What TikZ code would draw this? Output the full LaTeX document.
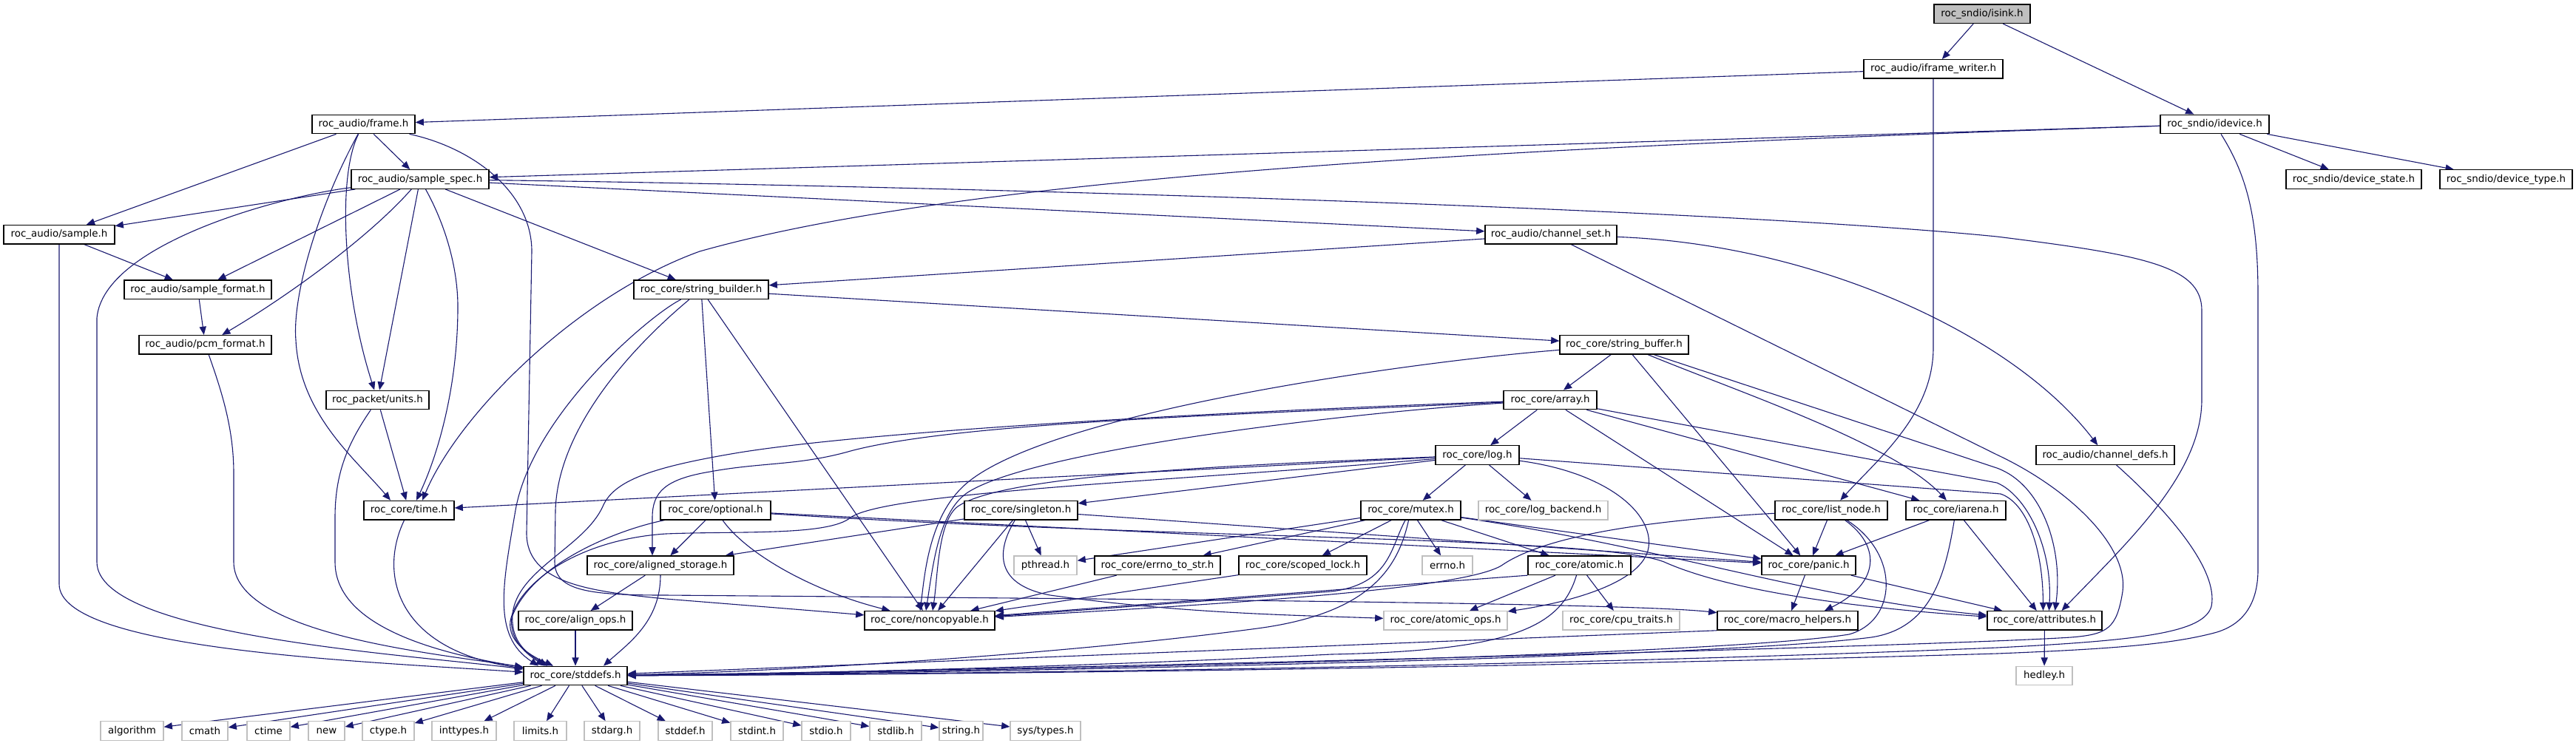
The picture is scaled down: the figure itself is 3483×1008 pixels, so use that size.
\documentclass[tikz,border=0pt]{standalone}
\usepackage{fontspec}
\setmainfont{DejaVu Sans}
\usetikzlibrary{arrows.meta,calc}
\pgfdeclarelayer{bg}
\pgfdeclarelayer{edges}
\pgfsetlayers{bg,edges,main}
\definecolor{edgec}{RGB}{25,25,112}
\definecolor{grey75}{RGB}{191,191,191}
\begin{document}
\begin{tikzpicture}[x=0.5pt,y=-0.5pt,
 nb/.style={draw=black,fill=white,line width=0.65pt,minimum height=12.75pt,inner sep=0pt,font=\fontsize{6.7pt}{7.5pt}\selectfont,text=black},
 ng/.style={nb,draw=grey75},
 bw/.style={minimum width=#1*0.5pt},
 dep/.style={draw=edgec,line width=0.55pt,-{Triangle[length=5.6pt,width=4.6pt]}},
]
\begin{pgfonlayer}{bg}
\fill[white] (0,0) rectangle (3483,1008);
\end{pgfonlayer}
\useasboundingbox (0,0) rectangle (3483,1008);

% nodes
\node[nb,bw=130,fill=grey75] (isink) at (2680,18.75) {roc\_sndio/isink.h};
\node[nb,bw=188] (ifw) at (2614,93.35) {roc\_audio/iframe\_writer.h};
\node[nb,bw=139] (frame) at (491.5,167.95) {roc\_audio/frame.h};
\node[nb,bw=147] (idevice) at (2994.5,167.95) {roc\_sndio/idevice.h};
\node[nb,bw=186] (sspec) at (568,242.55) {roc\_audio/sample\_spec.h};
\node[nb,bw=183] (dstate) at (3182.5,242.55) {roc\_sndio/device\_state.h};
\node[nb,bw=179] (dtype) at (3388.5,242.55) {roc\_sndio/device\_type.h};
\node[nb,bw=150] (sample) at (80,317.15) {roc\_audio/sample.h};
\node[nb,bw=178] (chset) at (2097,317.15) {roc\_audio/channel\_set.h};
\node[nb,bw=199] (sfmt) at (267.5,391.75) {roc\_audio/sample\_format.h};
\node[nb,bw=182] (sbuilder) at (948,391.75) {roc\_core/string\_builder.h};
\node[nb,bw=179] (pcm) at (277.5,466.35) {roc\_audio/pcm\_format.h};
\node[nb,bw=174] (sbuffer) at (2196,466.35) {roc\_core/string\_buffer.h};
\node[nb,bw=139] (units) at (510.5,540.95) {roc\_packet/units.h};
\node[nb,bw=126] (array) at (2096,540.95) {roc\_core/array.h};
\node[nb,bw=113] (log) at (1997.5,615.55) {roc\_core/log.h};
\node[nb,bw=187] (chdefs) at (2846.5,615.55) {roc\_audio/channel\_defs.h};
\node[nb,bw=122] (time) at (553,690.15) {roc\_core/time.h};
\node[nb,bw=149] (optional) at (967.5,690.15) {roc\_core/optional.h};
\node[nb,bw=153] (singleton) at (1380.5,690.15) {roc\_core/singleton.h};
\node[nb,bw=135] (mutex) at (1907.5,690.15) {roc\_core/mutex.h};
\node[ng,bw=175] (logb) at (2086.5,690.15) {roc\_core/log\_backend.h};
\node[nb,bw=152] (listnode) at (2476,690.15) {roc\_core/list\_node.h};
\node[nb,bw=135] (iarena) at (2644.5,690.15) {roc\_core/iarena.h};
\node[nb,bw=198] (alst) at (893,764.75) {roc\_core/aligned\_storage.h};
\node[ng,bw=85] (pthread) at (1413.5,764.75) {pthread.h};
\node[nb,bw=170] (errstr) at (1565,764.75) {roc\_core/errno\_to\_str.h};
\node[nb,bw=173] (slock) at (1761.5,764.75) {roc\_core/scoped\_lock.h};
\node[ng,bw=68] (errno) at (1957,764.75) {errno.h};
\node[nb,bw=139] (atomic) at (2135.5,764.75) {roc\_core/atomic.h};
\node[nb,bw=127] (panic) at (2445.5,764.75) {roc\_core/panic.h};
\node[nb,bw=154] (alops) at (778,839.35) {roc\_core/align\_ops.h};
\node[nb,bw=176] (noncopy) at (1257,839.35) {roc\_core/noncopyable.h};
\node[ng,bw=167] (aops) at (1954.5,839.35) {roc\_core/atomic\_ops.h};
\node[ng,bw=158] (cput) at (2192,839.35) {roc\_core/cpu\_traits.h};
\node[nb,bw=190] (macroh) at (2417,839.35) {roc\_core/macro\_helpers.h};
\node[nb,bw=155] (attr) at (2764.5,839.35) {roc\_core/attributes.h};
\node[nb,bw=140] (stddefs) at (778,913.95) {roc\_core/stddefs.h};
\node[ng,bw=76] (hedley) at (2764,913.95) {hedley.h};
\node[ng,bw=85] (algorithm) at (178.5,988.55) {algorithm};
\node[ng,bw=62] (cmath) at (277,988.55) {cmath};
\node[ng,bw=58] (ctime) at (363,988.55) {ctime};
\node[ng,bw=49] (new) at (441.5,988.55) {new};
\node[ng,bw=70] (ctype) at (525,988.55) {ctype.h};
\node[ng,bw=87] (inttypes) at (627.5,988.55) {inttypes.h};
\node[ng,bw=71] (limits) at (730.5,988.55) {limits.h};
\node[ng,bw=75] (stdarg) at (827.5,988.55) {stdarg.h};
\node[ng,bw=73] (stddef) at (926.5,988.55) {stddef.h};
\node[ng,bw=71] (stdint) at (1023.5,988.55) {stdint.h};
\node[ng,bw=66] (stdio) at (1117,988.55) {stdio.h};
\node[ng,bw=70] (stdlib) at (1211,988.55) {stdlib.h};
\node[ng,bw=59] (stringh) at (1299.5,988.55) {string.h};
\node[ng,bw=95] (systypes) at (1413.5,988.55) {sys/types.h};

\begin{pgfonlayer}{edges}
% top
\draw[dep] (isink) -- (ifw);
\draw[dep] (isink) -- (idevice);
\draw[dep] (ifw) -- (frame);
\draw[dep] (ifw) -- (2614,470) .. controls (2614,560) and (2540,620) .. (listnode);
\draw[dep] (idevice) -- (sspec);
\draw[dep] (idevice) .. controls (2000,200) and (1300,240) .. (946,340) .. controls (780,400) and (620,560) .. ($(time.north)+(18,0)$);
\draw[dep] (idevice) -- (dstate);
\draw[dep] (idevice) -- (dtype);
\draw[dep] (idevice) .. controls (3040,240) and (3053,300) .. (3053,400) -- (3053,770) .. controls (3053,830) and (3020,850) .. (2990,857) .. controls (2930,872) and (2850,878) .. (2700,884) .. controls (2000,905) and (1200,913) .. (stddefs);
% frame
\draw[dep] (frame) -- (sample);
\draw[dep] (frame) -- (sspec);
\draw[dep] (frame) .. controls (455,240) and (465,400) .. (units);
\draw[dep] (frame) .. controls (430,280) and (395,400) .. (400,460) .. controls (405,560) and (480,620) .. ($(time.north)+(-25,0)$);
\draw[dep] (frame) .. controls (640,200) and (719,260) .. (719,340) -- (712,720) .. controls (711,790) and (800,800) .. (900,810) .. controls (1000,818) and (1100,826) .. (noncopy);
% sample_spec
\draw[dep] (sspec) -- (sample);
\draw[dep] (sspec) -- (sfmt);
\draw[dep] (sspec) .. controls (500,320) and (390,400) .. (pcm);
\draw[dep] (sspec) -- (units);
\draw[dep] (sspec) .. controls (600,300) and (620,360) .. (619,420) .. controls (618,530) and (590,620) .. ($(time.north)+(10,0)$);
\draw[dep] (sspec) -- (sbuilder);
\draw[dep] (sspec) -- (chset);
\draw[dep] (sspec) .. controls (1200,250) and (2300,280) .. (2700,320) .. controls (2900,345) and (2977,360) .. (2977,420) -- (2977,540) .. controls (2977,640) and (2880,730) .. ($(attr.north)+(23,0)$);
\draw[dep] (sspec) .. controls (380,265) and (140,330) .. (131,430) -- (131,760) .. controls (131,860) and (550,885) .. (stddefs);
% audio small
\draw[dep] (sample) -- (sfmt);
\draw[dep] (sample) -- (80,790) .. controls (80,880) and (500,895) .. (stddefs);
\draw[dep] (sfmt) -- (pcm);
\draw[dep] (pcm) .. controls (300,530) and (316,580) .. (316,640) -- (316,760) .. controls (316,860) and (600,885) .. (stddefs);
\draw[dep] (units) -- (time);
\draw[dep] (units) .. controls (470,600) and (453,640) .. (453,700) -- (453,760) .. controls (453,850) and (600,885) .. (stddefs);
\draw[dep] (time) .. controls (510,780) and (540,880) .. (stddefs);
% channel set / defs
\draw[dep] (chset) -- (sbuilder);
\draw[dep] (chset) .. controls (2450,330) and (2720,450) .. (chdefs);
\draw[dep] (chset) -- (2700,615) .. controls (2800,662) and (2878,740) .. (2870,800) .. controls (2862,850) and (2850,858) .. (2800,862) .. controls (2600,875) and (1300,908) .. (stddefs);
\draw[dep] (chdefs) .. controls (2930,690) and (3000,770) .. (2990,820) .. controls (2980,855) and (2900,866) .. (2700,876) .. controls (2000,905) and (1200,912) .. (stddefs);
% string builder
\draw[dep] (sbuilder) -- (sbuffer);
\draw[dep] (sbuilder) -- (optional);
\draw[dep] (sbuilder) -- (noncopy);
\draw[dep] (sbuilder) .. controls (880,425) and (720,560) .. (697,690) .. controls (680,790) and (665,860) .. ($(stddefs.north)+(-50,0)$);
\draw[dep] (sbuilder) .. controls (890,440) and (755,560) .. (751,690) -- (750,760) .. controls (750,800) and (800,805) .. (900,805) .. controls (1500,810) and (2200,815) .. (macroh);
% string buffer
\draw[dep] (sbuffer) -- (array);
\draw[dep] (sbuffer) -- (panic);
\draw[dep] (sbuffer) .. controls (2350,530) and (2560,600) .. (iarena);
\draw[dep] (sbuffer) -- (2700,633) .. controls (2760,655) and (2790,740) .. ($(attr.north)+(14,0)$);
\draw[dep] (sbuffer) .. controls (1900,490) and (1400,560) .. (1300,660) .. controls (1255,705) and (1250,780) .. ($(noncopy.north)+(-13,0)$);
% array
\draw[dep] (array) -- (log);
\draw[dep] (array) -- (iarena);
\draw[dep] (array) -- (panic);
\draw[dep] (array) -- (2700,653) .. controls (2740,670) and (2775,740) .. ($(attr.north)+(6,0)$);
\draw[dep] (array) .. controls (1800,560) and (1400,610) .. (1310,665) .. controls (1270,690) and (1262,760) .. ($(noncopy.north)+(-5,0)$);
\draw[dep] (array) .. controls (1700,560) and (1300,570) .. (1150,610) .. controls (1080,630) and (1030,625) .. (960,638) .. controls (900,648) and (882,665) .. (882,700) -- ($(alst.north)+(-11,0)$);
\draw[dep] (array) .. controls (1700,555) and (1200,580) .. (1000,612) .. controls (880,632) and (830,650) .. (815,685) .. controls (790,740) and (700,770) .. (693,830) .. controls (690,870) and (715,885) .. ($(stddefs.north)+(-38,0)$);
% log
\draw[dep] (log) -- (singleton);
\draw[dep] (log) -- (mutex);
\draw[dep] (log) -- (logb);
\draw[dep] (log) -- (time);
\draw[dep] (log) .. controls (1700,628) and (1360,640) .. (1295,685) .. controls (1268,705) and (1268,780) .. ($(noncopy.north)+(4,0)$);
\draw[dep] (log) .. controls (1600,650) and (1200,665) .. (1150,700) .. controls (1120,725) and (1000,718) .. (900,722) .. controls (780,730) and (700,790) .. (690,840) .. controls (686,870) and (720,888) .. ($(stddefs.north)+(-30,0)$);
\draw[dep] (log) .. controls (2180,640) and (2240,700) .. (2228,745) .. controls (2215,790) and (2120,815) .. (aops);
\draw[dep] (log) -- (2705,668) .. controls (2740,680) and (2762,740) .. ($(attr.north)+(-2,0)$);
% singleton
\draw[dep] (singleton) -- (alst);
\draw[dep] (singleton) -- (pthread);
\draw[dep] (singleton) -- (noncopy);
\draw[dep] (singleton) .. controls (1350,740) and (1340,790) .. (1420,805) .. controls (1600,830) and (1750,832) .. (aops);
\draw[dep] (singleton) -- (panic);
% optional
\draw[dep] (optional) -- (alst);
\draw[dep] (optional) .. controls (1010,750) and (1100,800) .. (noncopy);
\draw[dep] (optional) -- (panic);
\draw[dep] (optional) .. controls (1600,730) and (2160,725) .. (2250,760) .. controls (2350,805) and (2550,825) .. (attr);
\draw[dep] (optional) .. controls (840,715) and (720,760) .. (692,835) .. controls (688,868) and (715,886) .. ($(stddefs.north)+(-42,0)$);
% mutex
\draw[dep] (mutex) -- (errno);
\draw[dep] (mutex) -- (atomic);
\draw[dep] (mutex) -- (panic);
\draw[dep] (mutex) .. controls (2250,740) and (2450,810) .. (attr);
\draw[dep] (mutex) -- (slock);
\draw[dep] (mutex) -- (errstr);
\draw[dep] (mutex) -- (pthread);
\draw[dep] (mutex) .. controls (1880,740) and (1880,790) .. (1800,800) .. controls (1600,815) and (1400,830) .. (noncopy);
\draw[dep] (mutex) .. controls (1890,770) and (1850,830) .. (1700,850) .. controls (1400,890) and (1000,910) .. (stddefs);
% atomic
\draw[dep] (atomic) -- (aops);
\draw[dep] (atomic) -- (cput);
\draw[dep] (atomic.south west) -- (noncopy);
\draw[dep] (atomic) .. controls (2110,850) and (2040,880) .. (1800,885) .. controls (1400,905) and (1000,912) .. (stddefs);
% list node, iarena, panic
\draw[dep] (listnode) -- (panic);
\draw[dep] (listnode) .. controls (2545,740) and (2540,790) .. ($(macroh.north)+(50,0)$);
\draw[dep] (listnode) .. controls (2570,750) and (2565,840) .. (2500,858) .. controls (2300,890) and (1200,910) .. (stddefs);
\draw[dep] (listnode) .. controls (2200,705) and (2080,730) .. (2030,765) .. controls (1980,795) and (1700,815) .. (noncopy);
\draw[dep] (iarena) -- (panic);
\draw[dep] (iarena) .. controls (2630,780) and (2610,850) .. (2530,862) .. controls (2300,892) and (1200,912) .. (stddefs);
\draw[dep] (iarena) -- (attr);
\draw[dep] (panic) -- (macroh);
\draw[dep] (panic) -- (attr);
\draw[dep] (macroh.south west) -- (stddefs);
\draw[dep] (errstr) -- (noncopy);
\draw[dep] (slock) -- (noncopy);
\draw[dep] (alst) -- (alops);
\draw[dep] (alst) .. controls (893,840) and (850,870) .. ($(stddefs.north)+(38,0)$);
\draw[dep] (alops) -- (stddefs);
\draw[dep] (attr) -- (hedley);
% stddefs children
\foreach \c in {algorithm,cmath,ctime,new,ctype,inttypes,limits,stdarg,stddef,stdint,stdio,stdlib,stringh,systypes}
  {\draw[dep] (stddefs) -- (\c);}
\end{pgfonlayer}
\end{tikzpicture}
\end{document}
